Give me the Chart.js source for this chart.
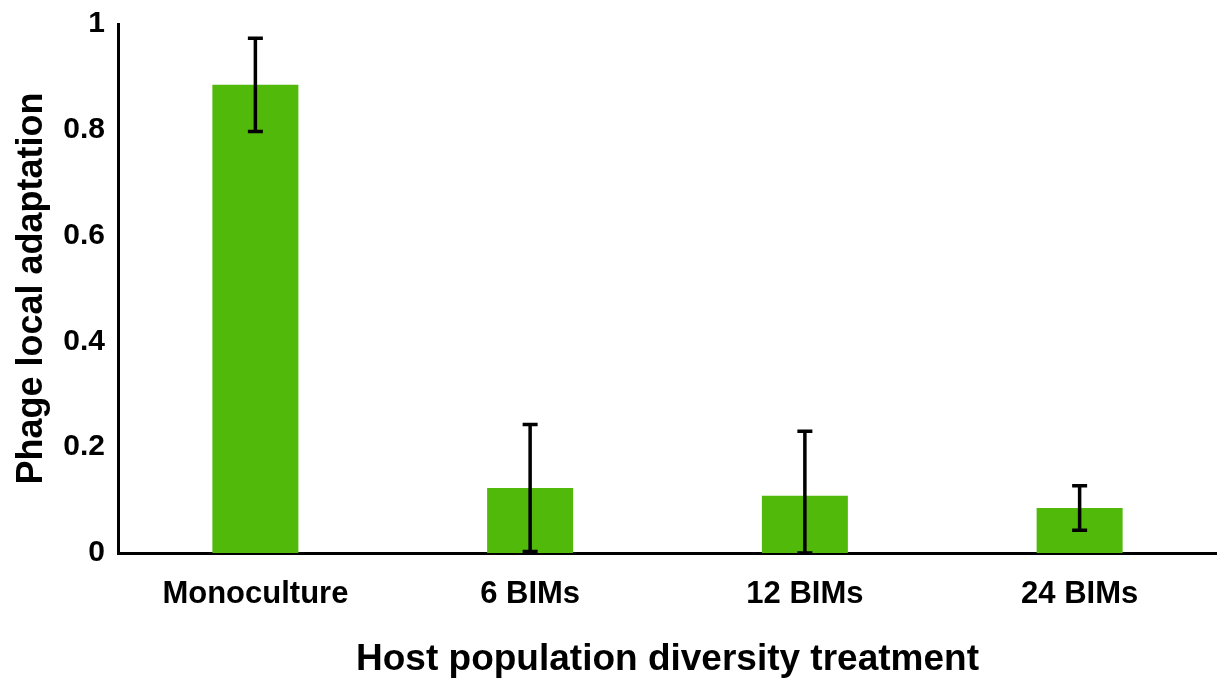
<!DOCTYPE html>
<html lang="en">
<head>
    <meta charset="UTF-8">
    <title>Phage local adaptation</title>
    <script src="https://cdn.jsdelivr.net/npm/chart.js"></script>
    <style>
        html, body { margin: 0; padding: 0; background: #ffffff; }
        #wrap { width: 1217px; height: 682px; }
    </style>
</head>
<body>
    <div id="wrap"><canvas id="grafico" width="1217" height="682"></canvas></div>
    <script>
        const categorias = ['Monoculture', '6 BIMs', '12 BIMs', '24 BIMs'];
        const medias = [0.885, 0.123, 0.108, 0.085];
        const erros = [0.088, 0.12, 0.122, 0.042];
        const ticksY = [0, 0.2, 0.4, 0.6, 0.8, 1];

        const fonte = "'Liberation Sans', Arial, sans-serif";

        // barras de erro desenhadas sobre as barras
        const barrasErro = {
            id: 'barrasErro',
            afterDatasetsDraw(chart) {
                const ctx = chart.ctx;
                const y = chart.scales.y;
                const meta = chart.getDatasetMeta(0);
                ctx.save();
                ctx.strokeStyle = '#000';
                ctx.lineWidth = 3.5;
                meta.data.forEach((bar, i) => {
                    const topo = y.getPixelForValue(medias[i] + erros[i]);
                    const base = y.getPixelForValue(Math.max(0, medias[i] - erros[i]));
                    ctx.beginPath();
                    ctx.moveTo(bar.x, topo);
                    ctx.lineTo(bar.x, base);
                    ctx.moveTo(bar.x - 7.5, topo);
                    ctx.lineTo(bar.x + 7.5, topo);
                    ctx.moveTo(bar.x - 7.5, base);
                    ctx.lineTo(bar.x + 7.5, base);
                    ctx.stroke();
                });
                ctx.restore();
            }
        };

        new Chart(document.getElementById('grafico').getContext('2d'), {
            type: 'bar',
            data: {
                labels: categorias,
                datasets: [{
                    data: medias,
                    backgroundColor: '#50b90a',
                    borderWidth: 0,
                    barPercentage: 1,
                    categoryPercentage: 0.313
                }]
            },
            options: {
                responsive: false,
                animation: false,
                layout: { padding: { top: 24, right: 0, bottom: 0, left: 0 } },
                plugins: {
                    legend: { display: false },
                    tooltip: { enabled: false }
                },
                scales: {
                    x: {
                        grid: { display: false, drawTicks: false },
                        border: { display: true, color: '#000', width: 3 },
                        ticks: {
                            color: '#000',
                            padding: 23,
                            maxRotation: 0,
                            font: { family: fonte, size: 31, weight: 'bold' }
                        },
                        title: {
                            display: true,
                            text: 'Host population diversity treatment',
                            color: '#000',
                            padding: { top: 30, bottom: 0 },
                            font: { family: fonte, size: 37, weight: 'bold' }
                        },
                        afterFit(scale) { scale.height = 129; }
                    },
                    y: {
                        min: 0,
                        max: 1,
                        afterBuildTicks(scale) { scale.ticks = ticksY.map(v => ({ value: v })); },
                        grid: { display: false, drawTicks: false },
                        border: { display: true, color: '#000', width: 3 },
                        ticks: {
                            color: '#000',
                            padding: 13,
                            font: { family: fonte, size: 30, weight: 'bold' },
                            callback: (v) => String(v)
                        },
                        title: {
                            display: true,
                            text: 'Phage local adaptation',
                            color: '#000',
                            padding: { top: 10, bottom: 0 },
                            font: { family: fonte, size: 36, weight: 'bold' }
                        },
                        afterFit(scale) {
                            scale.width = 118;
                            scale.paddingTop = 0;
                        }
                    }
                }
            },
            plugins: [barrasErro]
        });
    </script>
</body>
</html>
